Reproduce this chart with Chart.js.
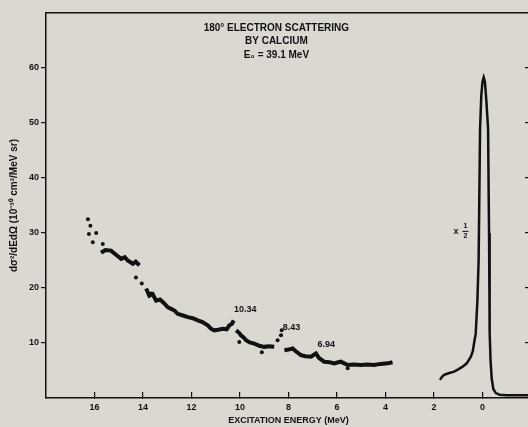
<!DOCTYPE html>
<html>
<head>
<meta charset="utf-8">
<script src="https://cdn.jsdelivr.net/npm/chart.js@4.4.1/dist/chart.umd.min.js"></script>
<style>
  html, body { margin: 0; padding: 0; background: #dbd8d2; overflow: hidden; }
  #wrap { position: absolute; left: 0; top: 0; width: 540px; height: 427px; }
</style>
</head>
<body>
<div id="wrap"><canvas id="chart" width="540" height="427"></canvas></div>
<script>
// axis ticks
const xTicks = [16, 14, 12, 10, 8, 6, 4, 2, 0];
const yTicks = [10, 20, 30, 40, 50, 60];

const seg1E = [15.73, 15.55, 15.32, 15.1, 14.9, 14.75, 14.63, 14.42, 14.3, 14.15];
const seg1V = [26.4, 26.9, 26.8, 26.0, 25.3, 25.6, 25.0, 24.4, 24.8, 24.1];
const seg2E = [13.87, 13.74, 13.6, 13.46, 13.3, 13.12, 12.98, 12.84, 12.7, 12.57, 12.35, 12.15, 11.95, 11.74, 11.55, 11.33, 11.2, 11.06, 10.9, 10.71, 10.55, 10.44, 10.33, 10.26];
const seg2V = [19.9, 18.6, 18.9, 17.7, 17.9, 17.2, 16.5, 16.2, 15.9, 15.3, 15.0, 14.7, 14.5, 14.1, 13.8, 13.2, 12.6, 12.3, 12.4, 12.6, 12.5, 13.2, 13.5, 14.1];
const seg3E = [10.16, 10.05, 9.96, 9.85, 9.75, 9.6, 9.41, 9.2, 9.0, 8.8, 8.59];
const seg3V = [12.3, 11.9, 11.4, 11.0, 10.5, 10.1, 9.9, 9.5, 9.3, 9.4, 9.3];
const seg4E = [8.17, 8.0, 7.83, 7.7, 7.49, 7.3, 7.07, 6.95, 6.87, 6.75, 6.53, 6.3, 6.11, 5.95, 5.84, 5.7, 5.56, 5.3, 5.02, 4.75, 4.47, 4.2, 3.91, 3.71];
const seg4V = [8.7, 8.8, 9.0, 8.5, 7.8, 7.6, 7.5, 7.9, 8.1, 7.3, 6.6, 6.5, 6.3, 6.5, 6.6, 6.3, 6.0, 6.1, 6.0, 6.1, 6.0, 6.2, 6.3, 6.5];

// loose points
const dotE = [16.27, 16.17, 16.23, 16.07, 15.93, 15.66, 14.29, 14.05, 13.67, 10.03, 9.1, 8.45, 8.31, 8.28, 5.56];
const dotV = [32.5, 31.3, 29.8, 28.3, 30.0, 28.0, 21.9, 20.8, 19.0, 10.2, 8.3, 10.5, 11.4, 12.3, 5.4];

// elastic peak (plotted x 1/2)
const peakE = [1.75, 1.68, 1.58, 1.4, 1.17, 1.0, 0.82, 0.65, 0.48, 0.4, 0.35, 0.28, 0.21, 0.16, 0.1, 0.05, 0.0, -0.05, -0.1, -0.16, -0.23, -0.27, -0.29, -0.3, -0.33, -0.38, -0.45, -0.55, -0.7, -1.0, -1.5, -2.0];
const peakV = [3.3, 3.8, 4.2, 4.5, 4.8, 5.2, 5.7, 6.3, 7.5, 8.5, 9.9, 11.7, 17.7, 25, 49, 55, 57.5, 58.3, 57.5, 54, 49, 30, 20, 12, 7, 3.5, 1.6, 0.9, 0.6, 0.5, 0.5, 0.5];

const titleLines = ["180° ELECTRON SCATTERING", "BY CALCIUM", "E₀ = 39.1 MeV"];
const levelLabels = [
  { text: "10.34", e: 10.25, v: 16.0 },
  { text: "8.43", e: 8.24, v: 12.9 },
  { text: "6.94", e: 6.8, v: 9.8 }
];

const ink = "#111";
const fam = "'Liberation Sans', Arial, sans-serif";
const toPts = (es, vs) => es.map((e, i) => ({ x: e, y: vs[i] }));

function lineSet(es, vs, w) {
  return {
    data: toPts(es, vs),
    borderColor: ink,
    borderWidth: w,
    pointRadius: 0,
    tension: 0,
    fill: false
  };
}

const textPlugin = {
  id: "notes",
  afterDatasetsDraw(chart) {
    const ctx = chart.ctx;
    const xs = chart.scales.x;
    const ys = chart.scales.y;
    ctx.save();
    ctx.fillStyle = ink;
    ctx.textBaseline = "middle";
    ctx.textAlign = "center";
    ctx.font = "bold 10px " + fam;
    const tx = xs.getPixelForValue(8.5);
    [67.2, 64.8, 62.4].forEach((v, i) => {
      ctx.fillText(titleLines[i], tx, ys.getPixelForValue(v));
    });
    ctx.textAlign = "left";
    ctx.font = "bold 9px " + fam;
    levelLabels.forEach((l) => {
      ctx.fillText(l.text, xs.getPixelForValue(l.e), ys.getPixelForValue(l.v));
    });
    // x 1/2 marker next to the peak
    const mx = xs.getPixelForValue(1.2);
    const my = ys.getPixelForValue(30.3);
    ctx.fillText("x", mx, my);
    ctx.font = "bold 7px " + fam;
    ctx.fillText("1", mx + 10, my - 5);
    ctx.fillText("2", mx + 10, my + 5);
    ctx.fillRect(mx + 9, my - 0.5, 6, 1);
    ctx.restore();
  }
};

const tickFont = { family: fam, size: 9, weight: "bold" };

new Chart(document.getElementById("chart"), {
  type: "line",
  data: {
    datasets: [
      lineSet(seg1E, seg1V, 4),
      lineSet(seg2E, seg2V, 4),
      lineSet(seg3E, seg3V, 4),
      lineSet(seg4E, seg4V, 4),
      lineSet(peakE, peakV, 2.5),
      {
        data: toPts(dotE, dotV),
        showLine: false,
        pointRadius: 2,
        pointBackgroundColor: ink,
        pointBorderWidth: 0
      }
    ]
  },
  options: {
    responsive: false,
    animation: false,
    devicePixelRatio: 1,
    layout: { padding: 0 },
    plugins: { legend: { display: false }, tooltip: { enabled: false } },
    scales: {
      x: {
        type: "linear",
        position: "bottom",
        reverse: true,
        min: -2,
        max: 18,
        afterBuildTicks: (s) => { s.ticks = xTicks.map((v) => ({ value: v })); },
        afterFit: (s) => { s.height = 29; },
        grid: { drawOnChartArea: false, drawTicks: true, tickLength: -6, color: ink, lineWidth: 1.2 },
        border: { display: true, color: ink, width: 1.5 },
        ticks: { color: ink, font: tickFont, padding: 10, maxRotation: 0 },
        title: {
          display: true,
          text: "EXCITATION ENERGY (MeV)",
          color: ink,
          font: { family: fam, size: 9, weight: "bold" },
          padding: { top: 0, bottom: 1 }
        }
      },
      x2: {
        type: "linear",
        position: "top",
        min: -2,
        max: 18,
        afterFit: (s) => { s.height = 13; },
        grid: { display: false },
        border: { display: true, color: ink, width: 1.5 },
        ticks: { display: false }
      },
      y: {
        position: "left",
        min: 0,
        max: 70,
        afterBuildTicks: (s) => { s.ticks = yTicks.map((v) => ({ value: v })); },
        afterFit: (s) => { s.width = 46; },
        grid: { drawOnChartArea: false, drawTicks: true, tickLength: 5, color: ink, lineWidth: 1.2 },
        border: { display: true, color: ink, width: 1.5 },
        ticks: { color: ink, font: tickFont, padding: 2 },
        title: {
          display: true,
          text: "dσ²/dEdΩ (10⁻³⁰ cm²/MeV sr)",
          color: ink,
          font: { family: fam, size: 10, weight: "bold" },
          padding: { top: 8, bottom: 0 }
        }
      },
      y2: {
        position: "right",
        min: 0,
        max: 70,
        afterBuildTicks: (s) => { s.ticks = yTicks.map((v) => ({ value: v })); },
        afterFit: (s) => { s.width = 9; },
        grid: { drawOnChartArea: false, drawTicks: true, tickLength: -6, color: ink, lineWidth: 1.2 },
        border: { display: true, color: ink, width: 1.5 },
        ticks: { display: false }
      }
    }
  },
  plugins: [textPlugin]
});
</script>
</body>
</html>
